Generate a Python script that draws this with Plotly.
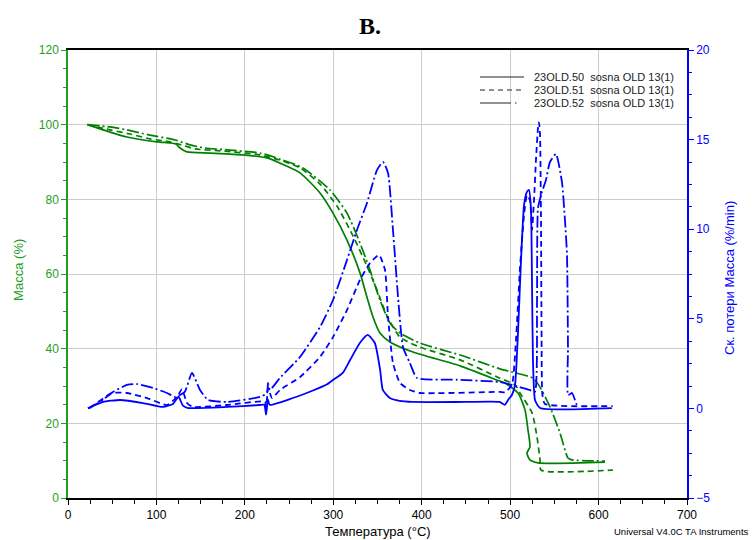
import plotly.graph_objects as go

# ---------------- DATA ----------------
# Mass (%) vs temperature (°C)
t_mass_50 = [22, 47.5, 66.7, 100.6, 115.3, 122, 126.7, 134.6, 160.6, 197.9, 225, 239.7, 262.4, 285,
             299.7, 315.5, 330.2, 338.1, 344.9, 352.8, 364.1, 390.1, 443.3, 488.5, 494.2, 508.9,
             516.8, 520.2, 522.4, 519, 522.4, 531.5, 607.3]
mass_50 = [100, 98.0, 96.7, 95.4, 95.1, 94.8, 93.75, 92.7, 92.4, 91.9, 91.1, 89.7, 87.1, 81.7,
           76.3, 69.1, 60.3, 53.8, 48.5, 44.2, 41.8, 39.1, 35.4, 31.3, 30.8, 28.1,
           23.6, 18.2, 13.7, 12.05, 10.2, 9.4, 9.6]

t_mass_51 = [22, 47.5, 70.1, 92.7, 115.3, 132.3, 143.6, 171.9, 217.1, 239.7, 262.4, 285, 304.2,
             322.3, 338.1, 349.4, 360.7, 375.4, 398, 443.3, 488.5, 505.5, 511.2, 524.8, 530.4,
             533.8, 534.9, 616.3]
mass_51 = [100, 98.6, 97.5, 96.2, 95.4, 94.3, 93.5, 93.0, 91.9, 90.5, 88.4, 84.1, 78.2,
           70.2, 62.1, 55.7, 48.8, 43.1, 40.4, 37.0, 32.1, 30.3, 28.1, 22.8, 16.3,
           10.2, 7.5, 7.5]

t_mass_52 = [22, 47.5, 66.7, 92.7, 121, 138, 154.9, 183.2, 217.1, 239.7, 265.7, 296.3, 315.5,
             330.2, 341.5, 352.8, 364.1, 375.4, 398, 443.3, 488.5, 525.8, 533.8, 545.1, 556.4,
             565.4, 570, 607.3]
mass_52 = [100, 99.4, 98.6, 97.2, 95.9, 94.6, 93.75, 93.2, 92.4, 90.8, 88.4, 82.5, 76.3,
           68.3, 61.1, 53.0, 46.9, 44.2, 41.5, 38.3, 34.6, 32.1, 29.7, 24.4, 17.4,
           10.7, 10.2, 9.9]

# Derivative mass loss rate (%/min) vs temperature (°C)
t_dtg_50 = [22.6, 39.6, 58.8, 84.8, 107.4, 118.7, 125, 130, 135.7, 180, 217, 222, 224, 226, 228,
            254.4, 277, 293, 300, 311, 319, 330, 339, 347, 353, 356, 364, 375, 390, 450, 488,
            494, 498, 502, 505.5, 509, 512.3, 515.7, 519, 521.3, 523.6, 524.7, 525.8, 528.1,
            533.8, 615]
dtg_50 = [0.0, 0.36, 0.47, 0.30, 0.08, 0.25, 0.65, 0.15, 0.02, 0.08, 0.19, 0.2, -0.35, 0.5, 0.2,
          0.58, 1.0, 1.35, 1.6, 2.0, 2.7, 3.65, 4.1, 3.65, 2.14, 1.03, 0.58, 0.42, 0.36, 0.36, 0.36,
          0.2, 0.5, 0.75, 1.31, 4.37, 8.28, 11.35, 12.08, 12.19, 11.07, 7.17, 2.70, 0.47,
          0.02, 0.02]

t_dtg_51 = [24.9, 49.8, 66.7, 89.3, 112, 123.3, 128.9, 134.6, 141.4, 179.8, 222.8, 224, 226.2,
            230.7, 239.7, 262.4, 285, 299.7, 315.5, 330.2, 341.5, 351.7, 358.5, 361.9, 367.5,
            375.4, 386.7, 398, 488.5, 494, 502, 506.6, 511, 515.7, 519, 522.4, 524.7, 527,
            529.2, 531.5, 532.6, 533.8, 534.9, 535.5, 536.5, 539.4, 616]
dtg_51 = [0.02, 0.86, 0.86, 0.58, 0.19, 0.64, 1.08, 0.30, 0.08, 0.19, 0.36, -0.2, 1.14,
          0.58, 1.03, 1.75, 2.87, 3.98, 5.49, 7.17, 8.11, 8.56, 7.72, 5.10, 2.53,
          1.42, 1.03, 0.86, 0.92, 0.9, 1.31, 3.82, 7.72, 10.79, 11.9, 11.63, 9.96, 11.63,
          13.86, 15.65, 15.98, 15.26, 10.51, 4.37, 0.75, 0.25, 0.13]

t_dtg_52 = [22.6, 36.2, 50.9, 66.7, 78, 96.1, 112, 121, 132, 140.2, 149.3, 158.3, 179.8, 217.1,
            225, 226.2, 228.4, 239.7, 262.3, 285, 299.7, 315.5, 326.8, 338.1, 349.4, 356.2,
            361.9, 367.5, 373.2, 378.8, 386.7, 394.7, 440, 488.5, 510, 522, 528, 530.4, 531.5,
            536, 540.5, 545, 551.8, 558.6, 562, 564.3, 565.4, 565.6, 570, 573.3, 576.7]
dtg_52 = [0.0, 0.36, 0.92, 1.31, 1.36, 1.14, 0.86, 0.64, 0.92, 1.98, 1.03, 0.47, 0.36, 0.64,
          0.86, 1.42, 1.03, 1.70, 2.87, 4.54, 6.05, 8.28, 9.96, 11.46, 13.30, 13.75,
          13.14, 9.96, 6.22, 3.43, 2.53, 1.70, 1.6, 1.47, 1.2, 1.03, 0.92, 6.05, 11.18,
          12.08, 12.75, 13.75, 14.2, 12.63, 10.51, 8.56, 3.37, 0.75, 0.86, 0.47, 0.02]

legend_labels = ["23OLD.50  sosna OLD 13(1)", "23OLD.51  sosna OLD 13(1)", "23OLD.52  sosna OLD 13(1)"]

# ---------------- STYLE ----------------
GREEN = "#008000"
GREEN_AX = "#1f9e1f"
BLUE = "#0000ff"
DASH = "6px,4px"
DASHDOT = "12px,3px,2px,3px"
FONT = "Liberation Sans, Arial, sans-serif"

fig = go.Figure()

for t, m, d in [(t_mass_50, mass_50, "solid"), (t_mass_51, mass_51, DASH), (t_mass_52, mass_52, DASHDOT)]:
    fig.add_trace(go.Scatter(x=t, y=m, mode="lines", yaxis="y",
                             line=dict(color=GREEN, width=1.7, dash=d, shape="spline", smoothing=0.6),
                             showlegend=False))

for t, v, d in [(t_dtg_50, dtg_50, "solid"), (t_dtg_51, dtg_51, DASH), (t_dtg_52, dtg_52, DASHDOT)]:
    fig.add_trace(go.Scatter(x=t, y=v, mode="lines", yaxis="y2",
                             line=dict(color=BLUE, width=1.8, dash=d, shape="spline", smoothing=0.5),
                             showlegend=False))

# ---------------- LAYOUT ----------------
L, R, T, B = 68, 66, 50, 42
W, H = 753, 540
pw, ph = W - L - R, H - T - B


def px(xp):
    return (xp - L) / pw


def py(yp):
    return (H - B - yp) / ph


fig.update_layout(
    width=W, height=H,
    margin=dict(l=L, r=R, t=T, b=B),
    paper_bgcolor="white", plot_bgcolor="white",
    font=dict(family=FONT, size=12, color="black"),
    showlegend=False,
    xaxis=dict(range=[0, 700], dtick=100, tick0=0, showgrid=True, gridcolor="#cccccc", gridwidth=1,
               showline=True, linecolor="black", linewidth=1.5, mirror=True,
               ticks="outside", ticklen=5, tickcolor="black",
               minor=dict(dtick=25, ticks="outside", ticklen=4, tickcolor="black", showgrid=False),
               tickfont=dict(size=12, color="black"), zeroline=False),
    yaxis=dict(range=[0, 120], dtick=20, showgrid=True, gridcolor="#cccccc", gridwidth=1,
               showline=True, linecolor=GREEN_AX, linewidth=1.5,
               ticks="outside", ticklen=5, tickcolor=GREEN_AX,
               minor=dict(dtick=5, ticks="outside", ticklen=3, tickcolor=GREEN_AX, showgrid=False),
               tickfont=dict(size=12, color=GREEN_AX), zeroline=False),
    yaxis2=dict(range=[-5, 20], dtick=5, overlaying="y", side="right", showgrid=False,
                showline=True, linecolor=BLUE, linewidth=1.5,
                ticks="outside", ticklen=5, tickcolor=BLUE,
                minor=dict(dtick=1.25, ticks="outside", ticklen=3, tickcolor=BLUE, showgrid=False),
                tickfont=dict(size=12, color=BLUE), zeroline=False),
)

ann = []
ann.append(dict(text="<b>B.</b>", x=px(370), y=py(26), xref="paper", yref="paper",
                showarrow=False, xanchor="center", yanchor="middle",
                font=dict(family="Liberation Serif, Times New Roman, serif", size=24, color="black")))
ann.append(dict(text="Масса (%)", x=px(18), y=py(270), xref="paper", yref="paper", textangle=-90,
                showarrow=False, xanchor="center", yanchor="middle",
                font=dict(family=FONT, size=13, color=GREEN_AX)))
ann.append(dict(text="Ск. потери Масса (%/min)", x=px(729), y=py(278), xref="paper", yref="paper",
                textangle=-90, showarrow=False, xanchor="center", yanchor="middle",
                font=dict(family=FONT, size=13, color=BLUE)))
ann.append(dict(text="Температура (°C)", x=px(378), y=py(531), xref="paper", yref="paper",
                showarrow=False, xanchor="center", yanchor="middle",
                font=dict(family=FONT, size=13, color="black")))
ann.append(dict(text="Universal V4.0C TA Instruments", x=px(751), y=py(531), xref="paper", yref="paper",
                showarrow=False, xanchor="right", yanchor="middle",
                font=dict(family=FONT, size=9.5, color="black")))

# manual legend
shapes = []
rows = [77, 90, 103]
for i, (yy, lab) in enumerate(zip(rows, legend_labels)):
    if i == 0:
        shapes.append(dict(type="line", xref="paper", yref="paper", x0=px(480), x1=px(524),
                           y0=py(yy), y1=py(yy), line=dict(color="#222", width=1)))
    elif i == 1:
        shapes.append(dict(type="line", xref="paper", yref="paper", x0=px(480), x1=px(524),
                           y0=py(yy), y1=py(yy), line=dict(color="#222", width=1, dash="5px,4px")))
    else:
        shapes.append(dict(type="line", xref="paper", yref="paper", x0=px(480), x1=px(511),
                           y0=py(yy), y1=py(yy), line=dict(color="#222", width=1)))
        shapes.append(dict(type="line", xref="paper", yref="paper", x0=px(515), x1=px(516.5),
                           y0=py(yy), y1=py(yy), line=dict(color="#222", width=1)))
    ann.append(dict(text=lab, x=px(532), y=py(yy), xref="paper", yref="paper", showarrow=False,
                    xanchor="left", yanchor="middle", font=dict(family=FONT, size=11, color="#222")))

fig.update_layout(annotations=ann, shapes=shapes)

fig.write_html("out.html")
